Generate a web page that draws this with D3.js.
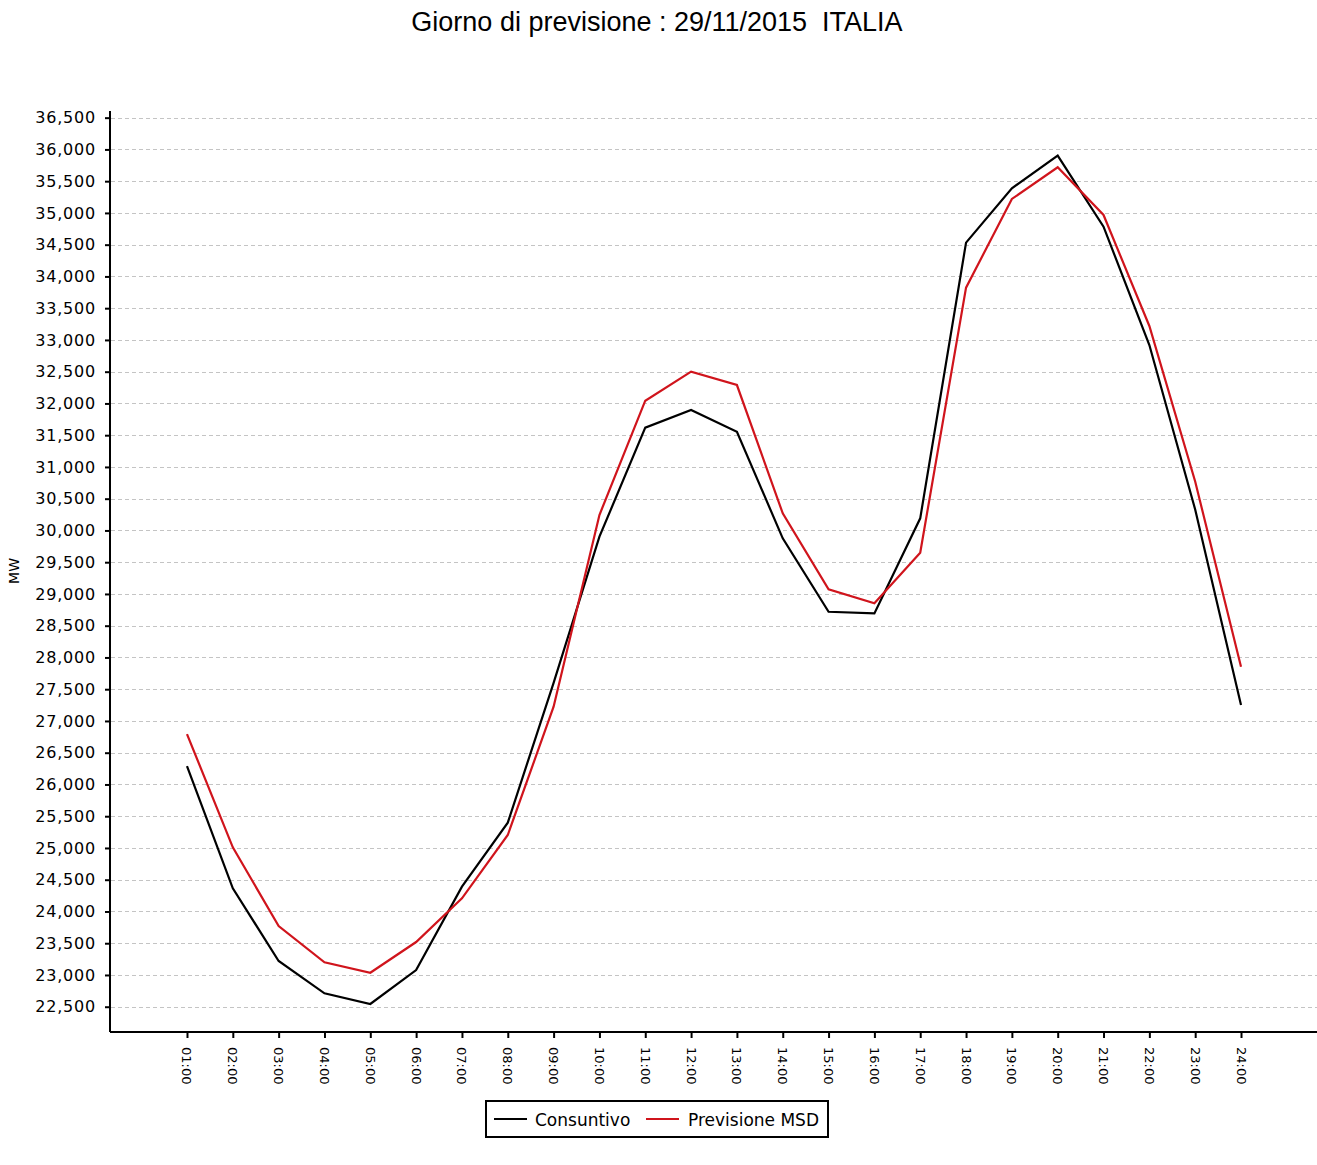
<!DOCTYPE html>
<html>
<head>
<meta charset="utf-8">
<script src="https://cdn.jsdelivr.net/npm/d3@7"></script>
<style>
  html, body { margin: 0; padding: 0; background: #fff; }
  svg { display: block; }
</style>
</head>
<body>
<script>
const hours = ["01:00","02:00","03:00","04:00","05:00","06:00","07:00","08:00","09:00","10:00","11:00","12:00",
               "13:00","14:00","15:00","16:00","17:00","18:00","19:00","20:00","21:00","22:00","23:00","24:00"];
const consuntivo = [26290, 24365, 23220, 22711, 22543, 23078, 24390, 25398, 27600, 29902, 31618, 31897,
                    31555, 29876, 28720, 28694, 30191, 34532, 35388, 35902, 34784, 32920, 30330, 27251];
const previsione = [26794, 25010, 23771, 23199, 23035, 23519, 24207, 25204, 27224, 30243, 32043, 32500,
                    32290, 30270, 29073, 28852, 29650, 33823, 35220, 35719, 34968, 33220, 30770, 27854];
const yTicks = [22500, 23000, 23500, 24000, 24500, 25000, 25500, 26000, 26500, 27000, 27500, 28000, 28500,
                29000, 29500, 30000, 30500, 31000, 31500, 32000, 32500, 33000, 33500, 34000, 34500, 35000,
                35500, 36000, 36500];
const seriesNames = ["Consuntivo", "Previsione MSD"];
const seriesColors = ["#000000", "#d0141c"];
const titleText = "Giorno di previsione : 29/11/2015  ITALIA";

const W = 1317, H = 1165;
const svg = d3.select("body").append("svg").attr("width", W).attr("height", H);

const x = d3.scalePoint().domain(hours).range([110, 1318]).padding(1.68);
const y = d3.scaleLinear().domain([22102, 36605]).range([1032, 111]);
const fmt = d3.format(",");

// title
svg.append("text")
  .attr("x", 657).attr("y", 31)
  .attr("text-anchor", "middle")
  .attr("font-family", "Liberation Sans, Arial, sans-serif")
  .attr("font-size", 27)
  .style("white-space", "pre")
  .attr("fill", "#000")
  .text(titleText);

// gridlines
svg.append("g")
  .selectAll("line")
  .data(yTicks)
  .join("line")
  .attr("x1", 111).attr("x2", 1317)
  .attr("y1", d => Math.round(y(d)) + 0.5).attr("y2", d => Math.round(y(d)) + 0.5)
  .attr("stroke", "#c4c4c4").attr("stroke-width", 1)
  .attr("stroke-dasharray", "4,3");

// y axis
const yAxis = svg.append("g")
  .attr("transform", "translate(110,0)")
  .call(d3.axisLeft(y).tickValues(yTicks).tickFormat(fmt).tickSize(5).tickPadding(9));
yAxis.select(".domain").attr("stroke", "#000").attr("stroke-width", 2).attr("d", "M0,111V1032");
yAxis.selectAll(".tick line").attr("stroke", "#000").attr("stroke-width", 2);
yAxis.selectAll(".tick text")
  .attr("font-family", "DejaVu Sans, sans-serif")
  .attr("font-size", 16)
  .attr("letter-spacing", "0.8px")
  .attr("fill", "#000");

// x axis
const xAxis = svg.append("g")
  .attr("transform", "translate(0,1032)")
  .call(d3.axisBottom(x).tickSize(6).tickPadding(0));
xAxis.select(".domain").attr("stroke", "#000").attr("stroke-width", 2).attr("d", "M110,0H1317");
xAxis.selectAll(".tick line").attr("stroke", "#000").attr("stroke-width", 2);
xAxis.selectAll(".tick text")
  .attr("font-family", "DejaVu Sans, sans-serif")
  .attr("font-size", 13)
  .attr("fill", "#000")
  .attr("text-anchor", "start")
  .attr("dy", null)
  .attr("y", 0)
  .attr("transform", "translate(-5,15) rotate(90)");

// y label
svg.append("text")
  .attr("transform", "translate(19,571) rotate(-90)")
  .attr("text-anchor", "middle")
  .attr("font-family", "DejaVu Sans, sans-serif")
  .attr("font-size", 14)
  .attr("fill", "#000")
  .text("MW");

// lines
const line = d3.line().x((d, i) => x(hours[i])).y(d => y(d));
[consuntivo, previsione].forEach((s, k) => {
  svg.append("path")
    .datum(s)
    .attr("d", line)
    .attr("fill", "none")
    .attr("stroke", seriesColors[k])
    .attr("stroke-width", 2.2)
    .attr("stroke-linejoin", "miter");
});

// legend
const lg = svg.append("g");
lg.append("rect")
  .attr("x", 486).attr("y", 1101).attr("width", 342).attr("height", 36)
  .attr("fill", "#fff").attr("stroke", "#000").attr("stroke-width", 2);
const legendItems = [
  { name: seriesNames[0], color: seriesColors[0], x0: 494, tx: 535 },
  { name: seriesNames[1], color: seriesColors[1], x0: 646, tx: 688 }
];
legendItems.forEach(it => {
  lg.append("line")
    .attr("x1", it.x0).attr("x2", it.x0 + 33)
    .attr("y1", 1119).attr("y2", 1119)
    .attr("stroke", it.color).attr("stroke-width", 2);
  lg.append("text")
    .attr("x", it.tx).attr("y", 1125.5)
    .attr("font-family", "DejaVu Sans, sans-serif")
    .attr("font-size", 17)
    .attr("fill", "#000")
    .text(it.name);
});
</script>
</body>
</html>
